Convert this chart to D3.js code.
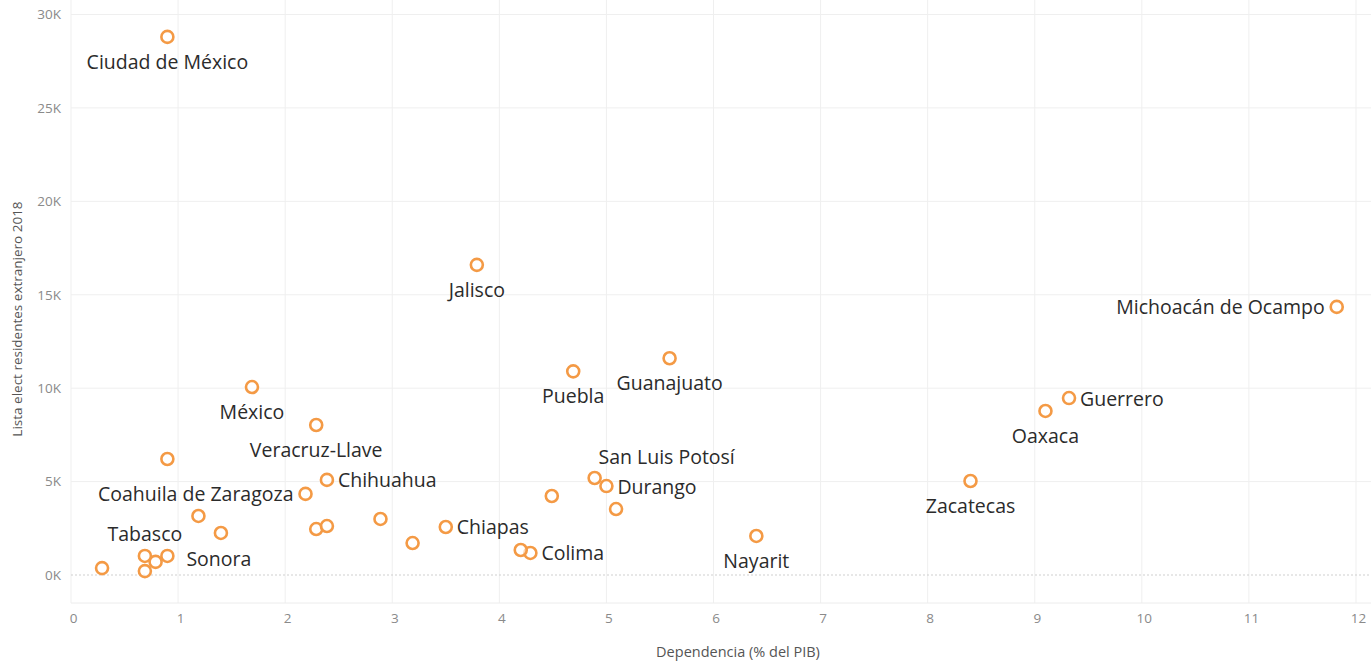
<!DOCTYPE html>
<html>
<head>
<meta charset="utf-8">
<script src="https://cdn.jsdelivr.net/npm/d3@7"></script>
<style>
  html, body { margin: 0; padding: 0; background: #fff; }
  svg { display: block; }
</style>
</head>
<body>
<svg id="chart" width="1371" height="663"></svg>
<script>
// ---- Data ----
const states = [
  "Ciudad de México", "Jalisco", "Michoacán de Ocampo", "Puebla", "Guanajuato",
  "México", "Veracruz-Llave", "Guerrero", "Oaxaca", "Zacatecas", "Nayarit",
  "San Luis Potosí", "Durango", "Chiapas", "Colima", "Chihuahua",
  "Coahuila de Zaragoza", "Tabasco", "Sonora",
  "Nuevo León", "Baja California", "Tamaulipas", "Baja California Sur", "Campeche",
  "Quintana Roo", "Sinaloa", "Querétaro", "Aguascalientes", "Tlaxcala",
  "Hidalgo", "Morelos", "Yucatán"
];
const dependencia = [
  0.90, 3.79, 11.82, 4.69, 5.59,
  1.69, 2.29, 9.32, 9.10, 8.40, 6.40,
  4.89, 5.00, 3.50, 4.29, 2.39,
  2.19, 0.69, 0.90,
  0.90, 1.19, 1.40, 0.79, 0.69,
  0.29, 2.29, 2.39, 2.89, 3.19,
  4.49, 5.09, 4.20
];
const listaElect = [
  28800, 16600, 14350, 10900, 11600,
  10060, 8030, 9470, 8780, 5030, 2090,
  5190, 4760, 2570, 1180, 5090,
  4340, 1020, 1020,
  6210, 3160, 2250, 700, 210,
  370, 2460, 2620, 3000, 1710,
  4230, 3530, 1340
];
const shownLabels = [
  "Ciudad de México", "Jalisco", "Michoacán de Ocampo", "Puebla", "Guanajuato",
  "México", "Veracruz-Llave", "Guerrero", "Oaxaca", "Zacatecas", "Nayarit",
  "San Luis Potosí", "Durango", "Chiapas", "Colima", "Chihuahua",
  "Coahuila de Zaragoza", "Tabasco", "Sonora"
];
const xTicks = [0, 1, 2, 3, 4, 5, 6, 7, 8, 9, 10, 11, 12];
const yTicks = [0, 5000, 10000, 15000, 20000, 25000, 30000];
const xTitle = "Dependencia (% del PIB)";
const yTitle = "Lista elect residentes extranjero 2018";

// ---- Label placement (style, not data) ----
const labelPlacement = {
  "Ciudad de México": "below", "Jalisco": "below", "Michoacán de Ocampo": "left",
  "Puebla": "below", "Guanajuato": "below", "México": "below",
  "Veracruz-Llave": "below", "Guerrero": "right", "Oaxaca": "below",
  "Zacatecas": "below", "Nayarit": "below", "San Luis Potosí": "aboveRight",
  "Durango": "right", "Chiapas": "right", "Colima": "right", "Chihuahua": "right",
  "Coahuila de Zaragoza": "left", "Tabasco": "above", "Sonora": "rightFar"
};

// ---- Layout ----
const svg = d3.select("#chart");
const left = 71, right = 1356;
const x = d3.scaleLinear().domain([0, 12]).range([left, right]);
const y = d3.scaleLinear().domain([0, 30000]).range([575, 14.5]);
const plotBottom = 603, plotTop = 0;
const font = "'Open Sans', sans-serif";

const g = svg.append("g");

// vertical gridlines
g.selectAll("line.vg").data(xTicks).enter().append("line")
  .attr("x1", d => x(d)).attr("x2", d => x(d))
  .attr("y1", plotTop).attr("y2", plotBottom)
  .attr("stroke", "#efefef").attr("stroke-width", 1);

// horizontal gridlines
g.selectAll("line.hg").data(yTicks.filter(d => d !== 0)).enter().append("line")
  .attr("x1", left).attr("x2", 1371)
  .attr("y1", d => y(d)).attr("y2", d => y(d))
  .attr("stroke", "#efefef").attr("stroke-width", 1);

// bottom axis line
g.append("line").attr("x1", left).attr("x2", 1371)
  .attr("y1", plotBottom).attr("y2", plotBottom)
  .attr("stroke", "#ececec").attr("stroke-width", 1);

// zero line dotted
g.append("line").attr("x1", left).attr("x2", 1371)
  .attr("y1", y(0)).attr("y2", y(0))
  .attr("stroke", "#cfcfcf").attr("stroke-width", 1.2)
  .attr("stroke-dasharray", "2,2");

// axes via d3
const xAxis = d3.axisBottom(x).tickValues(xTicks).tickSize(0).tickPadding(0).tickFormat(d3.format("d"));
const xg = svg.append("g").attr("transform", `translate(2,${plotBottom + 10})`).call(xAxis);
xg.select(".domain").remove();
xg.selectAll("text").attr("fill", "#8a8a8a").style("font-family", font).style("font-size", "13.5px");

const yAxis = d3.axisLeft(y).tickValues(yTicks).tickSize(0).tickPadding(0)
  .tickFormat(d => (d / 1000) + "K");
const yg = svg.append("g").attr("transform", `translate(${left - 10},0)`).call(yAxis);
yg.select(".domain").remove();
yg.selectAll("text").attr("fill", "#8a8a8a").style("font-family", font).style("font-size", "13.5px");

// axis titles
svg.append("text").attr("x", 738).attr("y", 657)
  .attr("text-anchor", "middle").attr("fill", "#555")
  .style("font-family", font).style("font-size", "14.5px")
  .text(xTitle);
svg.append("text").attr("transform", `translate(22,${y(13700)}) rotate(-90)`)
  .attr("text-anchor", "middle").attr("fill", "#555")
  .style("font-family", font).style("font-size", "13.5px")
  .text(yTitle);

// points
const data = states.map((s, i) => ({ name: s, dep: dependencia[i], val: listaElect[i] }));
svg.append("g").selectAll("circle").data(data).enter().append("circle")
  .attr("cx", d => x(d.dep)).attr("cy", d => y(d.val)).attr("r", 6)
  .attr("fill", "#fff").attr("fill-opacity", 0.6)
  .attr("stroke", "#f49a45").attr("stroke-width", 2.6);

// labels
const labelData = data.filter(d => shownLabels.includes(d.name));
svg.append("g").selectAll("text").data(labelData).enter().append("text")
  .attr("x", d => {
    const p = labelPlacement[d.name], cx = x(d.dep);
    if (p === "right") return cx + 11;
    if (p === "rightFar") return cx + 19;
    if (p === "left") return cx - 12;
    if (p === "aboveRight") return cx + 72;
    return cx;
  })
  .attr("y", d => {
    const p = labelPlacement[d.name], cy = y(d.val);
    if (p === "below") return cy + 32;
    if (p === "above") return cy - 15;
    if (p === "aboveRight") return cy - 14;
    if (p === "rightFar") return cy + 10;
    return cy + 7.5;
  })
  .attr("text-anchor", d => {
    const p = labelPlacement[d.name];
    if (p === "right" || p === "rightFar") return "start";
    if (p === "left") return "end";
    return "middle";
  })
  .attr("fill", "#2b2b2b")
  .style("font-family", font).style("font-size", "19.5px")
  .text(d => d.name);
</script>
</body>
</html>
